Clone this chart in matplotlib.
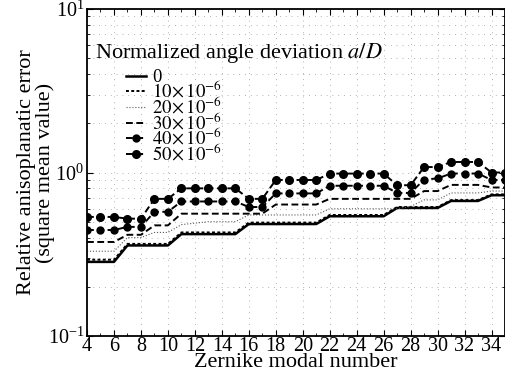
import matplotlib
matplotlib.use("Agg")
import matplotlib.pyplot as plt
from matplotlib.ticker import MultipleLocator, LogLocator, NullFormatter

plt.rcParams['font.family'] = ['Liberation Serif', 'DejaVu Serif']
plt.rcParams['mathtext.fontset'] = 'stix'

modes = list(range(4, 36))

err_0 = [0.284]*3 + [0.358]*4 + [0.42]*5 + [0.484]*6 + [0.54]*5 + [0.607]*4 + [0.67]*3 + [0.726]*2
err_10 = [0.293]*3 + [0.366]*4 + [0.43]*5 + [0.494]*6 + [0.55]*5 + [0.615]*4 + [0.678]*3 + [0.735]*2
err_20 = [0.33]*3 + [0.40, 0.40, 0.43, 0.43] + [0.48, 0.49, 0.50, 0.50, 0.50] + [0.55]*6 + \
         [0.60]*6 + [0.62, 0.68, 0.68] + [0.75]*3 + [0.77]*2
err_30 = [0.376]*3 + [0.416, 0.416, 0.475, 0.475] + [0.56]*7 + [0.637]*4 + [0.69]*7 + \
         [0.77, 0.77] + [0.84]*3 + [0.81]*2
err_40 = [0.445]*3 + [0.465, 0.465, 0.575, 0.575] + [0.665]*5 + [0.615, 0.615] + [0.745]*4 + \
         [0.83]*5 + [0.75, 0.75, 0.906, 0.92] + [0.986]*3 + [0.90]*2
err_50 = [0.535]*3 + [0.522, 0.522, 0.69, 0.69] + [0.80]*5 + [0.69, 0.69] + [0.90]*4 + \
         [0.985]*5 + [0.836, 0.836, 1.08, 1.08] + [1.16]*3 + [1.0]*2

labels = ['0', r'$10\!\times 10^{-6}$', r'$20\!\times 10^{-6}$', r'$30\!\times 10^{-6}$',
          r'$40\!\times 10^{-6}$', r'$50\!\times 10^{-6}$']

fig = plt.figure(figsize=(5.05, 3.82), dpi=100)
ax = fig.add_axes([0.1723, 0.1204, 0.8277, 0.856])

ax.plot(modes, err_0, color='black', lw=1.8, label=labels[0])
ax.plot(modes, err_10, color='black', lw=1.4, dashes=(1.5, 1.2), label=labels[1])
ax.plot(modes, err_20, color='0.35', lw=0.8, linestyle=':', label=labels[2])
ax.plot(modes, err_30, color='black', lw=1.4, dashes=(3.5, 1.8), label=labels[3])
ax.plot(modes, err_40, color='black', lw=1.4, dashes=(3.5, 1.8), marker='o', markersize=5,
        label=labels[4])
ax.plot(modes, err_50, color='black', lw=1.4, dashes=(3.5, 1.8), marker='o', markersize=5.5,
        label=labels[5])

ax.set_yscale('log')
ax.set_ylim(0.1, 10)
ax.set_xlim(4, 35)
ax.xaxis.set_major_locator(MultipleLocator(2))
ax.xaxis.set_minor_locator(MultipleLocator(1))
ax.yaxis.set_minor_locator(LogLocator(base=10, subs=range(2, 10)))
ax.yaxis.set_minor_formatter(NullFormatter())
ax.tick_params(which='both', direction='in', top=True, right=True, labelsize=14.5, pad=2)
ax.tick_params(axis='x', pad=0.5)
ax.tick_params(which='major', length=4)
ax.tick_params(which='minor', length=2)
ax.grid(which='major', axis='x', color='0.6', lw=0.6, linestyle=(0, (1, 6)))
ax.grid(which='both', axis='y', color='0.6', lw=0.6, linestyle=(0, (1, 6)))
for s in ax.spines.values():
    s.set_linewidth(1.3)

ax.set_xlabel('Zernike modal number', fontsize=16, labelpad=-2)
ax.set_ylabel('Relative anisoplanatic error\n(square mean value)', fontsize=16,
              linespacing=0.95, labelpad=-5)

ax.text(0.018, 0.865, r'Normalized angle deviation $a/D$', transform=ax.transAxes,
        fontsize=16, va='center', ha='left')
ax.legend(loc='upper left', bbox_to_anchor=(0.07, 0.845), frameon=False, fontsize=13.5,
          handlelength=1.1, handletextpad=0.3, labelspacing=-0.32, borderpad=0)

fig.savefig('out.png', dpi=100)
